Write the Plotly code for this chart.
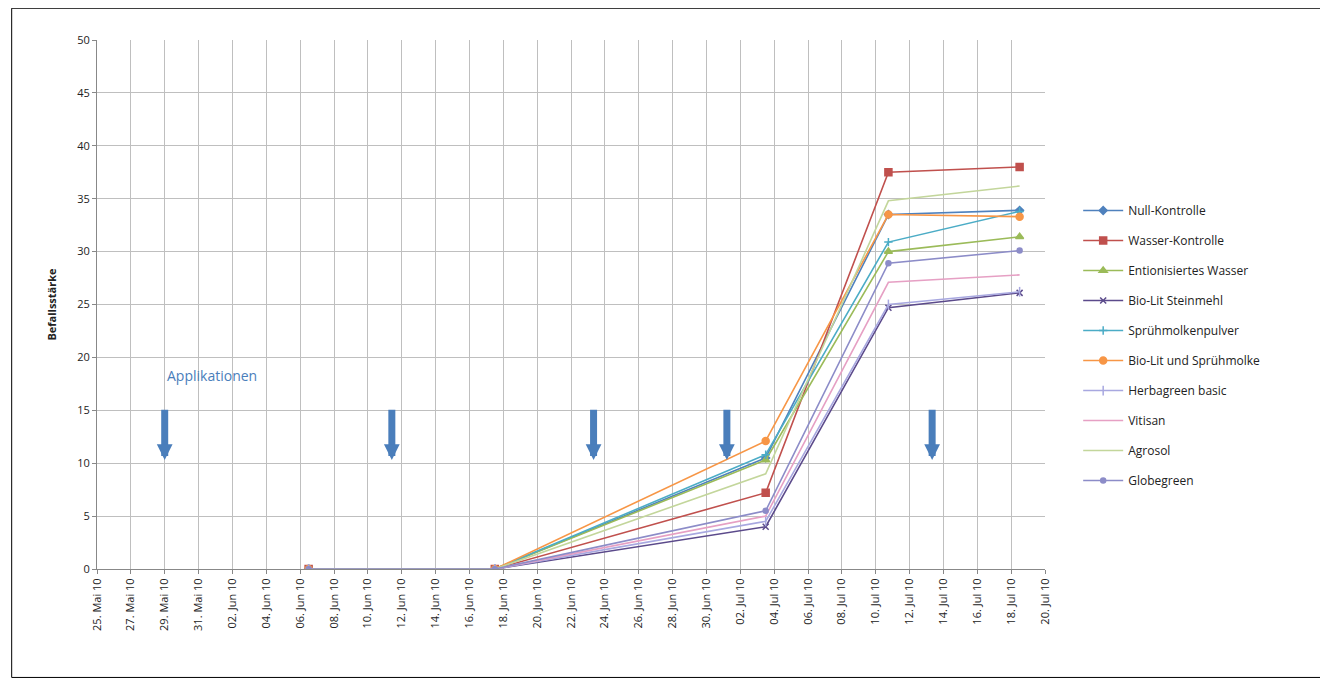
import pandas as pd
import plotly.graph_objects as go

dates = ["2010-06-06 12:00", "2010-06-17 12:00", "2010-07-03 12:00", "2010-07-10 18:00", "2010-07-18 12:00"]

series = {
    "Null-Kontrolle":          [0, 0, 10.5, 33.5, 33.9],
    "Wasser-Kontrolle":        [0, 0, 7.2, 37.5, 38.0],
    "Entionisiertes Wasser":   [0, 0, 10.3, 30.0, 31.4],
    "Bio-Lit Steinmehl":       [0, 0, 4.0, 24.7, 26.1],
    "Sprühmolkenpulver":       [0, 0, 10.8, 30.9, 33.8],
    "Bio-Lit und Sprühmolke":  [0, 0, 12.1, 33.5, 33.3],
    "Herbagreen basic":        [0, 0, 4.5, 25.0, 26.2],
    "Vitisan":                 [0, 0, 5.0, 27.1, 27.8],
    "Agrosol":                 [0, 0, 9.0, 34.8, 36.2],
    "Globegreen":              [0, 0, 5.5, 28.9, 30.1],
}
colors = ["#4F81BD", "#C0504D", "#9BBB59", "#5B4A8B", "#4BACC6",
          "#F79646", "#A8A8E0", "#E6A0C4", "#C3D69B", "#8C8CC8"]
symbols = ["diamond", "square", "triangle-up", "x-thin", "cross-thin",
           "circle", "line-ns", None, None, "circle"]
sizes = [6, 7, 7, 6, 6, 7, 7, 0, 0, 5]

app_dates = ["2010-05-29", "2010-06-11 10:00", "2010-06-23 08:00", "2010-07-01 05:00", "2010-07-13 08:00"]

months = {5: "Mai", 6: "Jun", 7: "Jul"}
tickdates = pd.date_range("2010-05-25", "2010-07-20", freq="2D")
ticktext = [f"{d.day:02d}. {months[d.month]} 10" for d in tickdates]

fig = go.Figure()
for i, ((name, vals), c, s, sz) in enumerate(zip(series.items(), colors, symbols, sizes)):
    mk = dict(color=c, size=sz, line=dict(color=c, width=1.5))
    if s:
        mk["symbol"] = s
    fig.add_trace(go.Scatter(x=dates, y=vals, name=name, legendgroup=f"g{i}",
                             mode="lines+markers" if s else "lines",
                             line=dict(color=c, width=1.6), marker=mk))

for d in app_dates:
    fig.add_annotation(x=d, y=10.3, ax=d, ay=15.2, xref="x", yref="y", axref="x", ayref="y",
                       text="", showarrow=True, arrowhead=2, arrowwidth=7, arrowsize=0.45,
                       arrowcolor="#4A7EBB")
fig.add_annotation(x="2010-05-29", y=18.3, text="Applikationen", showarrow=False,
                   xanchor="left", font=dict(color="#4A7EBB", size=14, family="Open Sans"))

fig.update_layout(
    width=1328, height=678, paper_bgcolor="white", plot_bgcolor="white",
    margin=dict(l=89, r=291, t=32, b=117),
    font=dict(family="Open Sans", size=11, color="#222"),
    legend=dict(x=1.035, y=0.705, yanchor="top", tracegroupgap=11, itemwidth=40,
                font=dict(size=12), bgcolor="rgba(0,0,0,0)"),
    shapes=[dict(type="rect", xref="paper", yref="paper", x0=-0.09, x1=1.296, y0=-0.205, y1=1.06,
                 line=dict(color="black", width=1))],
)
fig.update_xaxes(range=["2010-05-25", "2010-07-20"], tickvals=tickdates, ticktext=ticktext,
                 tickangle=-90, showgrid=True, gridcolor="#BFBFBF", showline=True,
                 linecolor="#888", ticks="outside", tickcolor="#888", ticklen=4)
fig.update_yaxes(range=[0, 50], dtick=5, showgrid=True, gridcolor="#BFBFBF", showline=True,
                 linecolor="#888", ticks="outside", tickcolor="#888", ticklen=4, zeroline=False,
                 title=dict(text="<b>Befallsstärke</b>", font=dict(size=11), standoff=18))

fig.write_html("out.html")
